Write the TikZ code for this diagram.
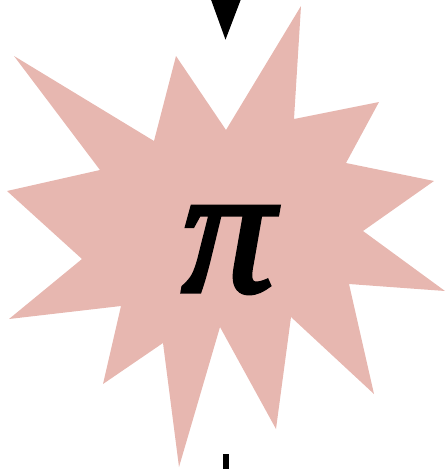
\documentclass[tikz,border=0pt]{standalone}
\usepackage{fontspec}
\font\pibigfont="Liberation Serif/I:embolden=2.5" at 184pt
\usetikzlibrary{arrows.meta}
\definecolor{burst}{RGB}{231,183,176}
\tikzset{
  burstfill/.style={fill=burst},
  connector/.style={line width=5pt, draw=black},
  bigtip/.style={-{Triangle[length=44pt,width=31pt]}}
}
\begin{document}
\begin{tikzpicture}[x=1pt,y=-1pt]
\useasboundingbox (0,0) rectangle (445,469);
\fill[burstfill] (14,56) -- (154,141) -- (176,56) -- (226,130) -- (301,6) -- (294,119) -- (379,102) -- (346,163) -- (434,181) -- (363,231) -- (445,291) -- (349,284) -- (374,394) -- (291,317) -- (276,429) -- (220,327) -- (179,467) -- (163,343) -- (103,384) -- (121,306) -- (9,319) -- (82,259) -- (7,191) -- (100,170) -- cycle;
\node[inner sep=0pt, font=\pibigfont] (pi) at (228,250) {π};
\coordinate (topstart) at (226,-20);
\coordinate (toptip) at (225.5,40);
\draw[connector, bigtip] (topstart) -- (toptip);
\coordinate (botstart) at (225.5,454);
\coordinate (botend) at (225.5,480);
\draw[connector, line width=6pt] (botstart) -- (botend);
\end{tikzpicture}
\end{document}
